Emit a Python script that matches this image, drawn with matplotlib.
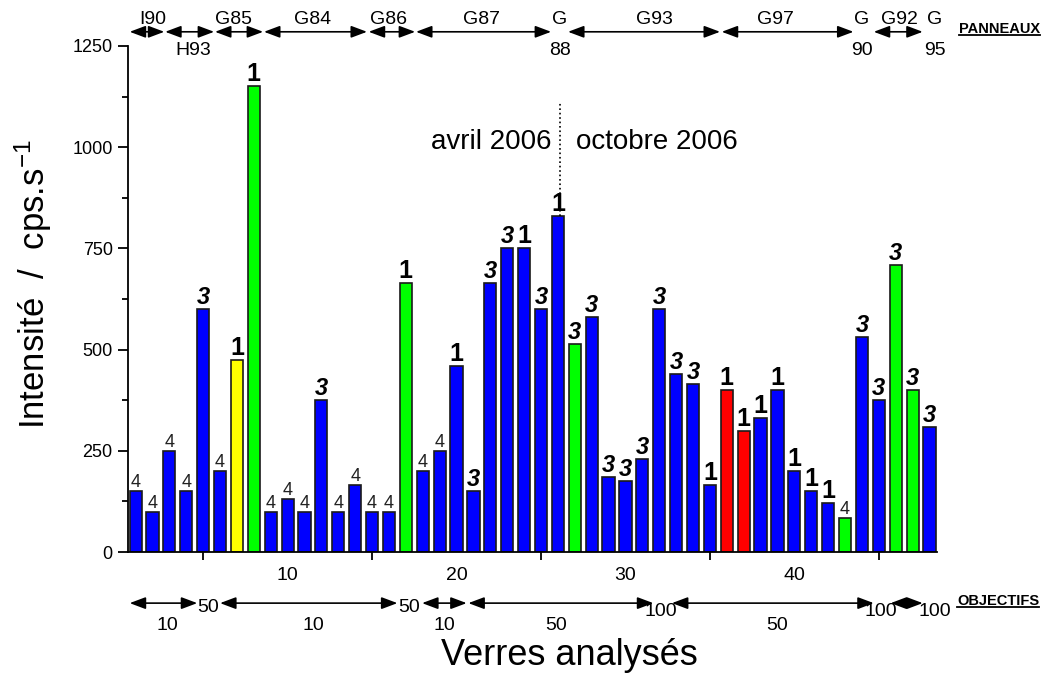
import matplotlib
matplotlib.use("Agg")
import matplotlib.pyplot as plt
from matplotlib.lines import Line2D
from matplotlib.ticker import MultipleLocator

plt.rcParams['font.family'] = ['Liberation Sans', 'DejaVu Sans']
plt.rcParams['mathtext.fontset'] = 'custom'
plt.rcParams['mathtext.rm'] = 'Liberation Sans'
plt.rcParams['mathtext.it'] = 'Liberation Sans:italic'

# intensité mesurée pour chaque verre
verres = list(range(1, 49))
intensite = [150, 100, 250, 150, 600, 200, 475, 1150, 100, 130,
             100, 375, 100, 165, 100, 100, 665, 200, 250, 460,
             150, 665, 750, 750, 600, 830, 515, 580, 185, 175,
             230, 600, 440, 415, 165, 400, 300, 330, 400, 200,
             150, 122, 85, 530, 375, 710, 400, 310]
# famille de couleur et indice affiché au-dessus de chaque barre
groupe = list("bbbbbbyg" "bbbbbbbb" "g" "bbbbbbbbb" "g" "bbbbbbbb" "rr" "bbbbb" "g" "bb" "gg" "b")
indice = list("4444" "3" "4" "11" "444" "3" "4444" "1" "44" "1" "333" "1" "3" "1"
              "33333333" "11111111" "4" "33333")

couleurs = {'b': '#0000ff', 'g': '#00ff00', 'y': '#ffff00', 'r': '#ff0000'}
styles = {'4': dict(fontsize=13, color='#222222'),
          '3': dict(fontsize=17, fontweight='bold', fontstyle='italic'),
          '1': dict(fontsize=18, fontweight='bold')}

# panneaux (flèches du haut)
panneaux = ['I90', 'H93', 'G85', 'G84', 'G86', 'G87', 'G93', 'G97', 'G92']
pan_debut = [0.65, 2.75, 5.7, 8.6, 14.8, 17.6, 26.6, 35.7, 44.7]
pan_fin = [2.7, 5.65, 8.55, 14.7, 17.55, 25.6, 35.6, 43.5, 47.6]
pan_label_x = [2.0, 4.4, 6.8, 11.5, 16.0, 21.5, 31.7, 38.9, 46.2]
pan_en_bas = [False, True, False, False, False, False, False, False, False]
# panneaux d'un seul verre : "G" sur la ligne, numéro en dessous
pan_seuls = ['88', '90', '95']
pan_seuls_x = [26.1, 44.0, 48.3]

# objectifs (flèches du bas)
obj_debut = [0.65, 6.0, 17.96, 20.7, 32.75, 45.7]
obj_fin = [4.65, 16.5, 20.6, 31.65, 44.7, 47.6]
obj_labels = ['10', '10', '10', '50', '50', '']
obj_label_x = [2.9, 11.5, 19.3, 25.9, 39.0, 46.6]
obj_seuls = ['50', '50', '100', '100', '100']
obj_seuls_x = [5.3, 17.2, 32.1, 45.1, 48.3]

fig = plt.figure(figsize=(10.44, 6.82), dpi=100)
ax = fig.add_axes([0.1226, 0.1906, 0.775, 0.742])

ax.bar(verres, intensite, width=0.72, color=[couleurs[g] for g in groupe],
       edgecolor='#1a1a1a', linewidth=1.2, zorder=2)

for x, y, lab in zip(verres, intensite, indice):
    ax.annotate(lab, (x, y), xytext=(0, 0), textcoords='offset points',
                ha='center', va='bottom', **styles[lab])

ax.set_xlim(0.55, 48.45)
ax.set_ylim(0, 1250)
ax.spines['top'].set_visible(False)
ax.spines['right'].set_visible(False)
for s in ('left', 'bottom'):
    ax.spines[s].set_linewidth(1.3)

ax.set_xticks([10, 20, 30, 40])
ax.set_xticks([5, 15, 25, 35, 45], minor=True)
ax.tick_params(axis='x', which='major', length=0, pad=11, labelsize=14)
ax.tick_params(axis='x', which='minor', direction='out', length=6, width=1.3)
ax.set_yticks([0, 250, 500, 750, 1000, 1250])
ax.yaxis.set_minor_locator(MultipleLocator(125))
ax.tick_params(axis='y', which='major', direction='out', length=7, width=1.3,
               pad=4, labelsize=13)
ax.tick_params(axis='y', which='minor', direction='out', length=4, width=1.3)

# titres des axes
ax.text(-0.117, 0.53, r'Intensité  /  cps.s$^{-1}$', transform=ax.transAxes,
        rotation=90, ha='center', va='center', fontsize=25)
ax.text(0.545, -0.205, 'Verres analysés', transform=ax.transAxes,
        ha='center', va='center', fontsize=26)

# séparation avril / octobre 2006
ax.plot([26.15, 26.15], [830, 1110], ls=':', color='black', lw=1.2)
ax.text(25.6, 1012, 'avril 2006', ha='right', va='center', fontsize=20)
ax.text(27.1, 1012, 'octobre 2006', ha='left', va='center', fontsize=20)

fleche = dict(arrowstyle='<|-|>,head_length=0.8,head_width=0.3',
              mutation_scale=12, shrinkA=0, shrinkB=0, lw=1.2, color='black')
coords = ('data', 'axes fraction')

y_pan = 1.028
for nom, x0, x1, xl, bas in zip(panneaux, pan_debut, pan_fin, pan_label_x, pan_en_bas):
    ax.annotate('', xy=(x1, y_pan), xytext=(x0, y_pan), xycoords=coords,
                textcoords=coords, arrowprops=fleche, annotation_clip=False)
    ax.text(xl, 0.992 if bas else 1.052, nom, transform=ax.get_xaxis_transform(),
            ha='center', va='center', fontsize=14)
for num, x in zip(pan_seuls, pan_seuls_x):
    ax.text(x, 1.052, 'G', transform=ax.get_xaxis_transform(),
            ha='center', va='center', fontsize=14)
    ax.text(x, 0.992, num, transform=ax.get_xaxis_transform(),
            ha='center', va='center', fontsize=14)

y_obj = -0.101
for x0, x1, lab, xl in zip(obj_debut, obj_fin, obj_labels, obj_label_x):
    ax.annotate('', xy=(x1, y_obj), xytext=(x0, y_obj), xycoords=coords,
                textcoords=coords, arrowprops=fleche, annotation_clip=False)
    if lab:
        ax.text(xl, -0.146, lab, transform=ax.get_xaxis_transform(),
                ha='center', va='center', fontsize=14)
for lab, x in zip(obj_seuls, obj_seuls_x):
    ax.text(x, -0.11 if lab == '50' else -0.118, lab,
            transform=ax.get_xaxis_transform(), ha='center', va='center', fontsize=14)

t_pan = fig.text(0.957, 1 - 29 / 682, 'PANNEAUX', ha='center', va='center',
                 fontsize=10.5, fontweight='bold')
t_obj = fig.text(0.956, 1 - 601 / 682, 'OBJECTIFS', ha='center', va='center',
                 fontsize=10.5, fontweight='bold')

# soulignement des deux titres
fig.canvas.draw()
renderer = fig.canvas.get_renderer()
for t in (t_pan, t_obj):
    bb = t.get_window_extent(renderer).transformed(fig.transFigure.inverted())
    fig.add_artist(Line2D([bb.x0, bb.x1], [bb.y0 + 0.001] * 2, color='black',
                          lw=1.3, transform=fig.transFigure))

fig.savefig('out.png', dpi=100)
